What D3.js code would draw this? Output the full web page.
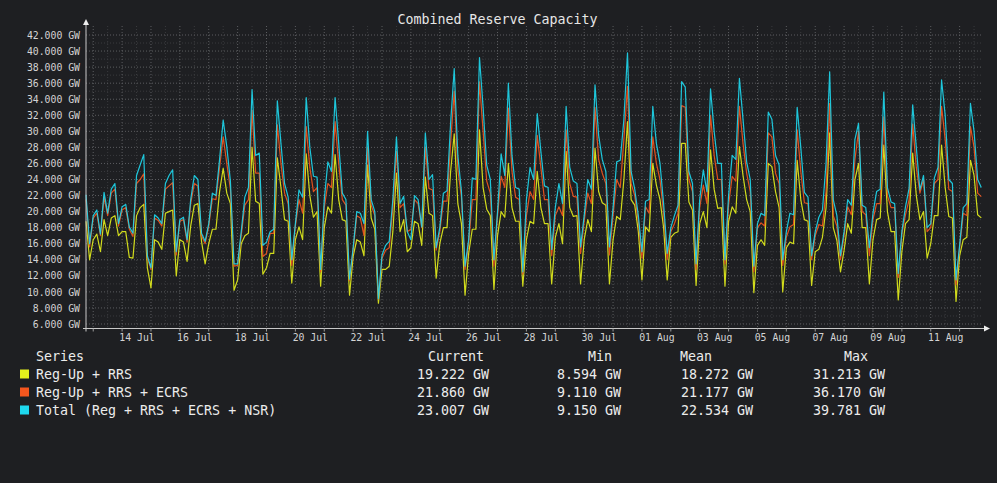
<!DOCTYPE html>
<html><head><meta charset="utf-8">
<script src="https://cdn.jsdelivr.net/npm/d3@7"></script>
<style>
html,body{margin:0;padding:0;background:#1e1f22;}
svg{display:block;}
text{font-family:"DejaVu Sans Mono",monospace;}
</style></head><body>
<svg id="chart" width="997" height="483"></svg>
<script>
// ---- data (3-hourly samples starting 12 Jul 18:00 UTC) ----
const stepHours = 3;
const regUpRRS = [
18.8,14.0,16.5,17.2,15.0,19.0,17.0,19.2,19.5,17.0,17.5,17.5,14.3,14.2,19.5,20.5,20.9,13.0,10.5,16.5,16.2,15.3,19.8,20.0,20.2,12.0,16.5,16.2,13.8,18.2,20.8,21.0,16.3,13.5,16.0,17.8,17.8,22.5,25.4,22.3,21.0,10.2,
11.5,16.0,17.0,17.3,28.0,21.3,21.0,12.2,13.0,14.8,14.8,26.7,23.0,19.0,18.8,11.1,16.5,18.1,16.5,27.2,22.0,19.3,20.0,10.7,18.0,20.6,19.8,27.1,21.5,19.0,18.8,9.6,14.4,16.5,16.2,14.5,25.8,19.2,17.8,8.594,12.8,12.8,
13.2,17.5,24.8,17.5,19.0,15.0,15.5,18.8,18.5,15.8,24.3,19.8,19.5,11.7,16.0,18.0,18.0,25.0,29.7,21.0,18.5,9.6,14.8,17.8,17.8,30.2,23.0,20.3,19.5,10.3,17.0,20.0,19.3,26.0,20.5,18.8,18.8,10.7,16.5,18.8,18.5,
25.0,20.5,18.5,18.5,11.0,16.8,18.5,16.0,27.5,20.5,19.4,19.5,11.0,16.5,19.0,17.5,27.9,22.5,21.1,20.8,11.0,16.5,19.4,19.0,24.0,31.213,21.5,20.8,17.5,11.5,18.1,17.5,26.0,23.3,21.5,18.0,11.5,16.8,17.3,17.5,28.5,28.5,
21.2,20.2,10.8,18.5,20.0,18.0,27.7,22.8,20.4,20.5,10.7,18.8,20.6,19.8,28.1,24.5,21.5,20.0,9.9,15.8,16.5,15.8,26.0,25.6,22.5,20.5,10.0,15.5,16.2,16.0,26.4,21.5,19.0,18.8,10.8,15.0,15.3,16.8,20.5,29.8,18.0,16.4,
12.5,15.2,18.5,17.3,24.0,26.0,18.0,18.0,11.0,16.5,19.0,19.2,28.3,20.0,17.5,17.5,9.0,15.0,18.5,19.0,27.3,22.0,19.0,20.0,14.2,16.0,19.5,19.5,28.3,23.0,19.4,19.2,8.8,14.5,16.5,16.8,26.4,24.5,19.6,19.222
];
const regUpRRSECRS = [
21.5,15.6,19.2,19.8,17.0,21.8,19.5,22.3,22.8,18.2,20.2,20.5,17.8,16.9,23.5,24.0,24.7,14.2,12.8,19.2,18.9,18.2,22.8,23.2,23.6,14.6,18.8,19.0,16.2,21.0,23.5,23.2,17.0,16.0,18.2,21.6,21.5,25.5,29.3,26.0,22.8,13.2,
13.3,17.0,20.8,21.5,32.6,24.8,24.8,14.4,14.8,17.3,17.3,30.8,26.0,22.3,21.0,13.3,18.2,21.5,19.8,30.6,25.5,22.5,23.0,12.5,20.5,23.5,23.0,31.2,26.0,21.5,20.8,11.4,15.2,19.5,19.2,17.0,28.0,20.8,19.5,9.11,14.2,15.2,
15.5,20.5,27.5,20.5,21.0,17.5,17.8,21.5,21.0,18.0,28.0,22.9,22.7,15.2,17.5,21.3,21.3,28.5,35.0,25.2,21.8,12.8,16.0,21.5,21.5,36.17,30.0,23.8,22.3,13.2,19.5,24.4,23.0,32.9,25.0,21.8,21.5,12.2,19.5,22.5,21.5,
29.5,25.5,21.5,21.5,14.5,19.5,20.6,19.5,30.2,23.5,21.9,21.8,14.8,18.8,22.3,21.0,33.0,26.5,24.8,23.5,14.6,19.5,24.0,23.0,29.0,35.6,23.5,22.0,18.8,14.2,20.6,19.8,29.3,26.0,24.0,19.8,14.0,17.5,18.5,19.8,33.2,33.0,
24.0,22.5,12.8,20.5,23.3,21.0,32.0,27.0,24.0,24.0,13.5,20.8,24.4,23.8,33.1,28.5,24.8,22.5,12.5,18.0,18.6,18.2,29.8,29.3,24.8,23.5,13.3,16.8,18.1,18.4,30.2,25.0,21.1,21.0,14.0,17.0,18.4,18.2,22.5,33.5,19.5,18.2,
14.0,17.0,20.6,19.6,26.5,30.0,20.0,19.6,14.5,19.0,21.0,21.0,31.8,22.0,20.5,20.5,11.8,17.2,19.6,21.5,30.9,25.5,22.3,24.0,17.5,18.0,23.5,24.0,33.1,29.0,22.8,22.5,10.9,15.5,19.8,19.5,30.6,28.0,22.3,21.86
];
const totalReserve = [
22.1,16.0,19.5,20.2,17.2,22.4,19.8,22.8,23.5,18.5,20.6,20.9,18.1,17.3,24.5,25.8,27.1,14.5,13.0,19.6,19.2,18.5,23.5,24.5,25.2,15.0,19.0,19.3,16.5,21.5,24.5,24.0,17.3,16.3,18.5,22.3,22.0,26.5,31.4,28.1,23.8,13.5,
13.5,17.5,21.8,23.0,35.2,27.0,27.3,15.8,16.2,17.5,17.8,33.8,28.5,23.5,21.8,14.0,18.5,22.7,21.8,34.2,28.0,24.4,24.3,12.8,21.5,26.2,25.0,34.2,28.5,22.3,21.5,11.6,15.5,20.0,19.8,18.5,30.0,21.5,20.0,9.15,14.6,15.8,
16.3,21.5,29.3,21.0,21.9,17.5,16.5,22.0,21.5,18.1,29.8,24.0,24.6,15.5,18.0,22.3,22.6,31.0,37.8,27.0,22.5,13.2,16.5,24.2,24.0,39.2,33.0,25.8,24.0,14.0,20.0,27.2,24.5,36.0,27.0,23.0,22.8,12.5,21.5,25.5,24.0,
32.2,27.5,23.2,23.0,15.3,20.5,23.5,21.0,33.1,25.5,23.8,23.5,15.6,19.5,24.0,22.8,35.8,29.5,26.5,25.0,15.6,20.5,26.2,26.4,31.5,39.781,25.0,22.8,19.5,15.0,21.3,21.5,33.1,28.5,26.0,21.0,14.8,18.0,19.5,20.8,36.2,35.5,
25.0,23.5,13.5,21.5,25.2,22.5,35.3,30.0,26.0,26.0,14.0,22.0,27.0,26.5,36.6,31.5,26.2,24.0,13.2,18.5,19.8,19.5,32.4,31.5,27.0,25.8,14.0,17.5,19.8,19.6,33.0,28.0,22.4,21.8,14.5,17.5,19.3,20.2,26.0,37.4,21.5,19.5,
14.5,17.5,21.5,20.8,29.0,31.0,20.8,20.5,15.5,19.8,22.5,22.8,34.9,23.0,21.2,21.0,12.3,17.5,20.6,22.9,33.3,28.0,22.7,24.5,18.0,18.5,24.2,25.5,36.4,32.0,24.0,23.5,11.5,15.8,20.5,21.0,33.5,30.0,24.0,23.007
];
const seriesNames = ["Reg-Up + RRS", "Reg-Up + RRS + ECRS", "Total (Reg + RRS + ECRS + NSR)"];
const currentVals = [19.222, 21.860, 23.007];
const minVals = [8.594, 9.110, 9.150];
const meanVals = [18.272, 21.177, 22.534];
const maxVals = [31.213, 36.170, 39.781];
const yTicks = [6,8,10,12,14,16,18,20,22,24,26,28,30,32,34,36,38,40,42];
const yMinorTicks = [7,9,11,13,15,17,19,21,23,25,27,29,31,33,35,37,39,41];
const xLabelDays = ["2025-07-14","2025-07-16","2025-07-18","2025-07-20","2025-07-22","2025-07-24","2025-07-26","2025-07-28","2025-07-30","2025-08-01","2025-08-03","2025-08-05","2025-08-07","2025-08-09","2025-08-11"];
const legendHeaders = ["Current","Min","Mean","Max"];
const title = "Combined Reserve Capacity";

// ---- styles ----
const colors = ["#e4f01c", "#f4561e", "#1ed8ee"];
const bg = "#1e1f22";

const svg = d3.select("#chart");
svg.append("rect").attr("width",997).attr("height",483).attr("fill",bg);

const start = Date.UTC(2025,6,12,18);
const dayPx = 28.88;
const x = d3.scaleUtc().domain([new Date(start), new Date(start + 31*86400000)]).range([86, 86 + 31*dayPx]);
const y = d3.scaleLinear().domain([6, 42]).range([324, 35]);
const plotLeft = 86, plotRight = 983, plotTop = 26, plotBottom = 328.5;

// grid
const grid = svg.append("g");
yMinorTicks.forEach(v => grid.append("line").attr("x1",plotLeft).attr("x2",plotRight).attr("y1",y(v)).attr("y2",y(v))
  .attr("stroke","#3a3b3e").attr("stroke-dasharray","1,2"));
const midnights = d3.utcDay.range(new Date(start), new Date(start + 31*86400000 + 3600000));
const noons = d3.utcHour.every(12).range(new Date(start), new Date(start + 31*86400000 + 3600000)).filter(d => d.getUTCHours() === 12);
noons.forEach(d => grid.append("line").attr("x1",x(d)).attr("x2",x(d)).attr("y1",plotTop).attr("y2",plotBottom)
  .attr("stroke","#3a3b3e").attr("stroke-dasharray","1,2"));
yTicks.forEach(v => grid.append("line").attr("x1",plotLeft).attr("x2",plotRight).attr("y1",y(v)).attr("y2",y(v))
  .attr("stroke","#5c5d60").attr("stroke-dasharray","1,2"));
midnights.forEach(d => grid.append("line").attr("x1",x(d)).attr("x2",x(d)).attr("y1",plotTop).attr("y2",plotBottom)
  .attr("stroke","#5c5d60").attr("stroke-dasharray","1,2"));

// lines
const seriesData = [regUpRRS, regUpRRSECRS, totalReserve];
const line = d3.line().x((d,i) => x(new Date(start + i*stepHours*3600000))).y(d => y(d));
seriesData.forEach((s,k) => {
  svg.append("path").datum(s).attr("d", line).attr("fill","none")
    .attr("stroke", colors[k]).attr("stroke-width",1.2).attr("stroke-opacity",0.9).attr("stroke-linejoin","round");
});

// axes
const yAxis = d3.axisLeft(y).tickValues(yTicks).tickFormat(d => d.toFixed(3) + " GW").tickSize(0).tickPadding(6);
svg.append("g").attr("transform",`translate(${plotLeft},0)`).call(yAxis)
  .call(g => g.select(".domain").remove())
  .call(g => g.selectAll("text").attr("fill","#d4d4d4").attr("font-size","9.8px").attr("font-family","DejaVu Sans Mono"));

const labelDates = xLabelDays.map(s => new Date(Date.parse(s + "T12:00:00Z")));
const xAxis = d3.axisBottom(x).tickValues(labelDates).tickFormat(d3.utcFormat("%d %b")).tickSize(0).tickPadding(5.5);
svg.append("g").attr("transform",`translate(0,${plotBottom})`).call(xAxis)
  .call(g => g.select(".domain").remove())
  .call(g => g.selectAll("text").attr("fill","#d4d4d4").attr("font-size","9.8px").attr("font-family","DejaVu Sans Mono"));

// axis lines + arrows
const axisColor = "#c8c8c8";
svg.append("line").attr("x1",plotLeft).attr("x2",plotLeft).attr("y1",plotBottom+3).attr("y2",22).attr("stroke",axisColor);
svg.append("line").attr("x1",plotLeft-3).attr("x2",987).attr("y1",plotBottom).attr("y2",plotBottom).attr("stroke",axisColor);
svg.append("path").attr("d",`M${plotLeft},19 L${plotLeft-3},25 L${plotLeft+3},25 Z`).attr("fill","#eeeeee");
svg.append("path").attr("d",`M990,${plotBottom} L984,${plotBottom-3} L984,${plotBottom+3} Z`).attr("fill","#eeeeee");
midnights.forEach(d => svg.append("line").attr("x1",x(d)).attr("x2",x(d)).attr("y1",plotBottom).attr("y2",plotBottom+3).attr("stroke","#9a9a9a"));

// title
svg.append("text").attr("x",497.5).attr("y",23.5).attr("text-anchor","middle").attr("fill","#e6e6e6")
  .attr("font-size","13.3px").text(title);

// legend
const lg = svg.append("g").attr("font-size","13.3px").attr("fill","#ececec");
lg.append("text").attr("x",36).attr("y",360.5).text("Series");
const headerX = [428, 588, 680, 844];
legendHeaders.forEach((h,i) => lg.append("text").attr("x",headerX[i]).attr("y",360.5).text(h));
const valueRight = [489, 621, 753, 885];
const cols = [currentVals, minVals, meanVals, maxVals];
seriesNames.forEach((n,k) => {
  const cy = 374 + k*18;
  lg.append("rect").attr("x",20).attr("y",cy-4.5).attr("width",9).attr("height",9).attr("fill",colors[k]);
  lg.append("text").attr("x",36).attr("y",cy+4.5).text(n);
  cols.forEach((arr,c) => lg.append("text").attr("x",valueRight[c]).attr("y",cy+4.5).attr("text-anchor","end")
    .text(arr[k].toFixed(3) + " GW"));
});
</script>
</body></html>
